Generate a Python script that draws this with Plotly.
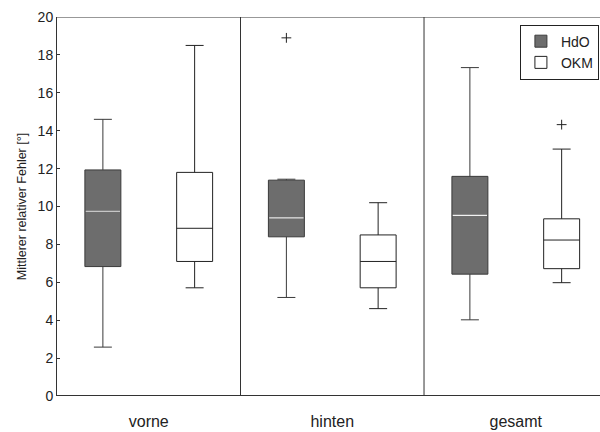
import plotly.graph_objects as go

groups = ["vorne", "hinten", "gesamt"]
group_pos = [1, 2, 3]
offset = 0.25
box_width = 0.196

# HdO statistics
hdo_low = [2.58, 5.2, 4.02]
hdo_q1 = [6.83, 8.4, 6.43]
hdo_med = [9.75, 9.4, 9.53]
hdo_q3 = [11.93, 11.39, 11.59]
hdo_high = [14.6, 11.44, 17.33]
hdo_outlier_group = [2]
hdo_outlier_val = [18.9]

# OKM statistics
okm_low = [5.71, 4.61, 5.98]
okm_q1 = [7.1, 5.71, 6.72]
okm_med = [8.85, 7.1, 8.23]
okm_q3 = [11.8, 8.5, 9.35]
okm_high = [18.5, 10.2, 13.03]
okm_outlier_group = [3]
okm_outlier_val = [14.32]

y_ticks = list(range(0, 21, 2))

FONT = "Liberation Sans, Arial, sans-serif"
hdo_x = [p - offset for p in group_pos]
okm_x = [p + offset for p in group_pos]

fig = go.Figure()
fig.add_trace(go.Box(
    name="HdO", x=hdo_x, q1=hdo_q1, median=hdo_med, q3=hdo_q3,
    lowerfence=hdo_low, upperfence=hdo_high,
    width=box_width, whiskerwidth=0.5,
    fillcolor="#6d6d6d", line=dict(color="#3a3a3a", width=1),
    boxpoints=False,
))
fig.add_trace(go.Box(
    name="OKM", x=okm_x, q1=okm_q1, median=okm_med, q3=okm_q3,
    lowerfence=okm_low, upperfence=okm_high,
    width=box_width, whiskerwidth=0.5,
    fillcolor="white", line=dict(color="#222222", width=1),
    boxpoints=False,
))

# white median lines for HdO boxes
mx, my = [], []
for x, m in zip(hdo_x, hdo_med):
    mx += [x - box_width / 2 + 0.004, x + box_width / 2 - 0.004, None]
    my += [m, m, None]
fig.add_trace(go.Scatter(x=mx, y=my, mode="lines", line=dict(color="#f2f2f2", width=1.2),
                         showlegend=False, hoverinfo="skip"))

# outliers
fig.add_trace(go.Scatter(
    x=[g - offset for g in hdo_outlier_group] + [g + offset for g in okm_outlier_group],
    y=hdo_outlier_val + okm_outlier_val,
    mode="markers", marker=dict(symbol="cross-thin", size=7, line=dict(color="#222", width=1)),
    showlegend=False, hoverinfo="skip"))

# group separators and top border
for s in [1.5, 2.5]:
    fig.add_shape(type="line", xref="x", yref="y", x0=s, x1=s, y0=0, y1=20,
                  line=dict(color="#333", width=1))
fig.add_shape(type="line", xref="paper", yref="y", x0=0, x1=1, y0=20, y1=20,
              line=dict(color="#333", width=1))

fig.update_layout(
    width=600, height=432,
    margin=dict(l=57, r=0, t=17, b=36),
    paper_bgcolor="white", plot_bgcolor="white",
    font=dict(family=FONT, color="#222", size=14),
    showlegend=True,
    legend=dict(x=0.998, y=0.98, xanchor="right", yanchor="top",
                bordercolor="#222", borderwidth=1, bgcolor="white",
                font=dict(size=14), tracegroupgap=0, itemwidth=30),
    xaxis=dict(range=[0.5, 3.459], tickvals=group_pos, ticktext=groups,
               tickfont=dict(size=16), ticks="", showgrid=False, zeroline=False,
               showline=False, ticklabelstandoff=14),
    yaxis=dict(range=[0, 20], tickvals=y_ticks, ticks="inside", ticklen=3,
               tickcolor="#333", showgrid=False, zeroline=False,
               showline=True, linecolor="#333", linewidth=1,
               title=dict(text="Mittlerer relativer Fehler [°]", font=dict(size=12.5), standoff=8),
               tickfont=dict(size=14)),
)
fig.add_shape(type="line", xref="paper", yref="y", x0=0, x1=1, y0=0, y1=0,
              line=dict(color="#333", width=2))

fig.write_html("out.html")
